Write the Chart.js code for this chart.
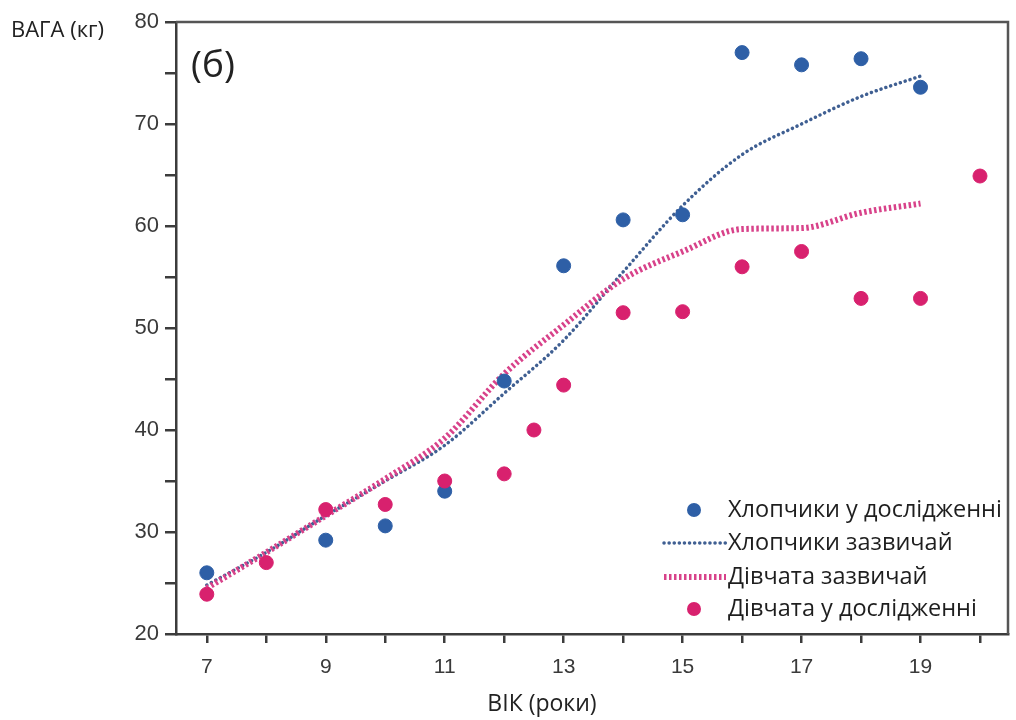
<!DOCTYPE html>
<html>
<head>
<meta charset="utf-8">
<script src="https://cdn.jsdelivr.net/npm/chart.js@4"></script>
<style>
  body { margin: 0; background: #fff; }
  canvas { display: block; }
</style>
</head>
<body>
<canvas id="chart" width="1016" height="720"></canvas>
<script>
// ages for the "usual" curves
const ages = [7, 8, 9, 10, 11, 12, 13, 14, 15, 16, 17, 18, 19];
const boysTypical = [24.8, 28.0, 31.6, 35.0, 38.5, 43.6, 48.8, 55.5, 62.0, 67.0, 70.0, 72.7, 74.7];
const girlsTypical = [24.5, 28.0, 31.6, 35.2, 39.2, 45.5, 50.3, 54.8, 57.5, 59.7, 59.8, 61.3, 62.2];

// measured points
const boysStudyAges = [7, 9, 10, 11, 12, 13, 14, 15, 16, 17, 18, 19];
const boysStudy = [26.0, 29.2, 30.6, 34.0, 44.8, 56.1, 60.6, 61.1, 77.0, 75.8, 76.4, 73.6];
const girlsStudyAges = [7, 8, 9, 10, 11, 12, 12.5, 13, 14, 15, 16, 17, 18, 19, 20];
const girlsStudy = [23.9, 27.0, 32.2, 32.7, 35.0, 35.7, 40.0, 44.4, 51.5, 51.6, 56.0, 57.5, 52.9, 52.9, 64.9];

const xTicks = [7, 8, 9, 10, 11, 12, 13, 14, 15, 16, 17, 18, 19, 20];
const xLabels = [7, 9, 11, 13, 15, 17, 19];
const yTicks = [20, 25, 30, 35, 40, 45, 50, 55, 60, 65, 70, 75, 80];
const yLabels = [20, 30, 40, 50, 60, 70, 80];

const BLUE = "#2e5fa6";
const PINK = "#d8216e";

function pts(xs, ys) {
  return xs.map((x, i) => ({ x: x, y: ys[i] }));
}

const axisColor = "#3c3c3c";

// frame, titles and legend drawn on top
const extras = {
  id: "extras",
  afterDraw(chart) {
    const ctx = chart.ctx;
    const a = chart.chartArea;
    ctx.save();
    // top and right frame
    ctx.strokeStyle = "#555";
    ctx.lineWidth = 2.5;
    ctx.beginPath();
    ctx.moveTo(a.left, a.top);
    ctx.lineTo(a.right, a.top);
    ctx.lineTo(a.right, a.bottom);
    ctx.stroke();

    ctx.fillStyle = "#222";
    ctx.textBaseline = "middle";
    ctx.font = "22px 'Open Sans'";
    ctx.textAlign = "left";
    ctx.fillText("ВАГА (кг)", 11, 31);
    ctx.font = "37px 'Open Sans'";
    ctx.fillText("(б)", 191, 66);
    ctx.font = "23px 'Open Sans'";
    ctx.textAlign = "center";
    ctx.fillText("ВІК (роки)", 542, 704);

    // legend
    const rows = [510, 543, 577, 609];
    const order = [2, 0, 1, 3];
    ctx.textAlign = "left";
    ctx.font = "23.5px 'Open Sans'";
    order.forEach((di, r) => {
      const ds = chart.data.datasets[di];
      const y = rows[r];
      if (ds.type === "scatter") {
        ctx.fillStyle = ds.backgroundColor;
        ctx.beginPath();
        ctx.arc(694, y, 7, 0, Math.PI * 2);
        ctx.fill();
      } else {
        ctx.strokeStyle = ds.borderColor;
        ctx.lineWidth = ds.borderWidth;
        ctx.lineCap = ds.borderCapStyle;
        ctx.setLineDash(ds.borderDash);
        ctx.beginPath();
        ctx.moveTo(664, y);
        ctx.lineTo(726, y);
        ctx.stroke();
        ctx.setLineDash([]);
        ctx.lineCap = "butt";
      }
      ctx.fillStyle = "#1e1e1e";
      ctx.fillText(ds.label, 728, y);
    });
    ctx.restore();
  },
};

new Chart(document.getElementById("chart"), {
  type: "line",
  data: {
    datasets: [
      {
        label: "Хлопчики зазвичай",
        data: pts(ages, boysTypical),
        borderColor: "#3f5f92",
        borderWidth: 3.5,
        borderCapStyle: "round",
        borderDash: [0.1, 5],
        pointRadius: 0,
        cubicInterpolationMode: "monotone",
        order: 3,
      },
      {
        label: "Дівчата зазвичай",
        data: pts(ages, girlsTypical),
        borderColor: "#d8428a",
        borderWidth: 6,
        borderCapStyle: "butt",
        borderDash: [2.5, 2.5],
        pointRadius: 0,
        cubicInterpolationMode: "monotone",
        order: 2,
      },
      {
        type: "scatter",
        label: "Хлопчики у дослідженні",
        data: pts(boysStudyAges, boysStudy),
        backgroundColor: BLUE,
        borderColor: BLUE,
        pointRadius: 7,
        order: 1,
      },
      {
        type: "scatter",
        label: "Дівчата у дослідженні",
        data: pts(girlsStudyAges, girlsStudy),
        backgroundColor: PINK,
        borderColor: PINK,
        pointRadius: 7,
        order: 0,
      },
    ],
  },
  options: {
    responsive: false,
    animation: false,
    layout: { padding: { left: 0, top: 22, right: 1, bottom: 0 } },
    plugins: { legend: { display: false }, tooltip: { enabled: false } },
    scales: {
      x: {
        type: "linear",
        min: 6.482,
        max: 20.471,
        afterBuildTicks: (s) => { s.ticks = xTicks.map((v) => ({ value: v })); },
        afterFit: (s) => { s.height = 86; s.paddingLeft = 0; s.paddingRight = 0; },
        ticks: {
          padding: 12,
          color: "#3a3a3a",
          font: { family: "'Liberation Sans'", size: 21 },
          callback: (v) => (xLabels.includes(v) ? String(v) : ""),
          maxRotation: 0,
          autoSkip: false,
        },
        grid: { drawOnChartArea: false, drawTicks: true, tickLength: 9, color: axisColor, lineWidth: 2.5 },
        border: { display: true, color: axisColor, width: 2.5 },
      },
      y: {
        min: 20,
        max: 80,
        afterBuildTicks: (s) => { s.ticks = yTicks.map((v) => ({ value: v })); },
        afterFit: (s) => { s.width = 176; },
        ticks: {
          padding: 6,
          color: "#3a3a3a",
          font: { family: "'Liberation Sans'", size: 22 },
          callback: (v) => (yLabels.includes(v) ? String(v) : ""),
          autoSkip: false,
        },
        grid: { drawOnChartArea: false, drawTicks: true, tickLength: 11, color: axisColor, lineWidth: 2.5 },
        border: { display: true, color: axisColor, width: 2.5 },
      },
    },
  },
  plugins: [extras],
});
</script>
</body>
</html>
